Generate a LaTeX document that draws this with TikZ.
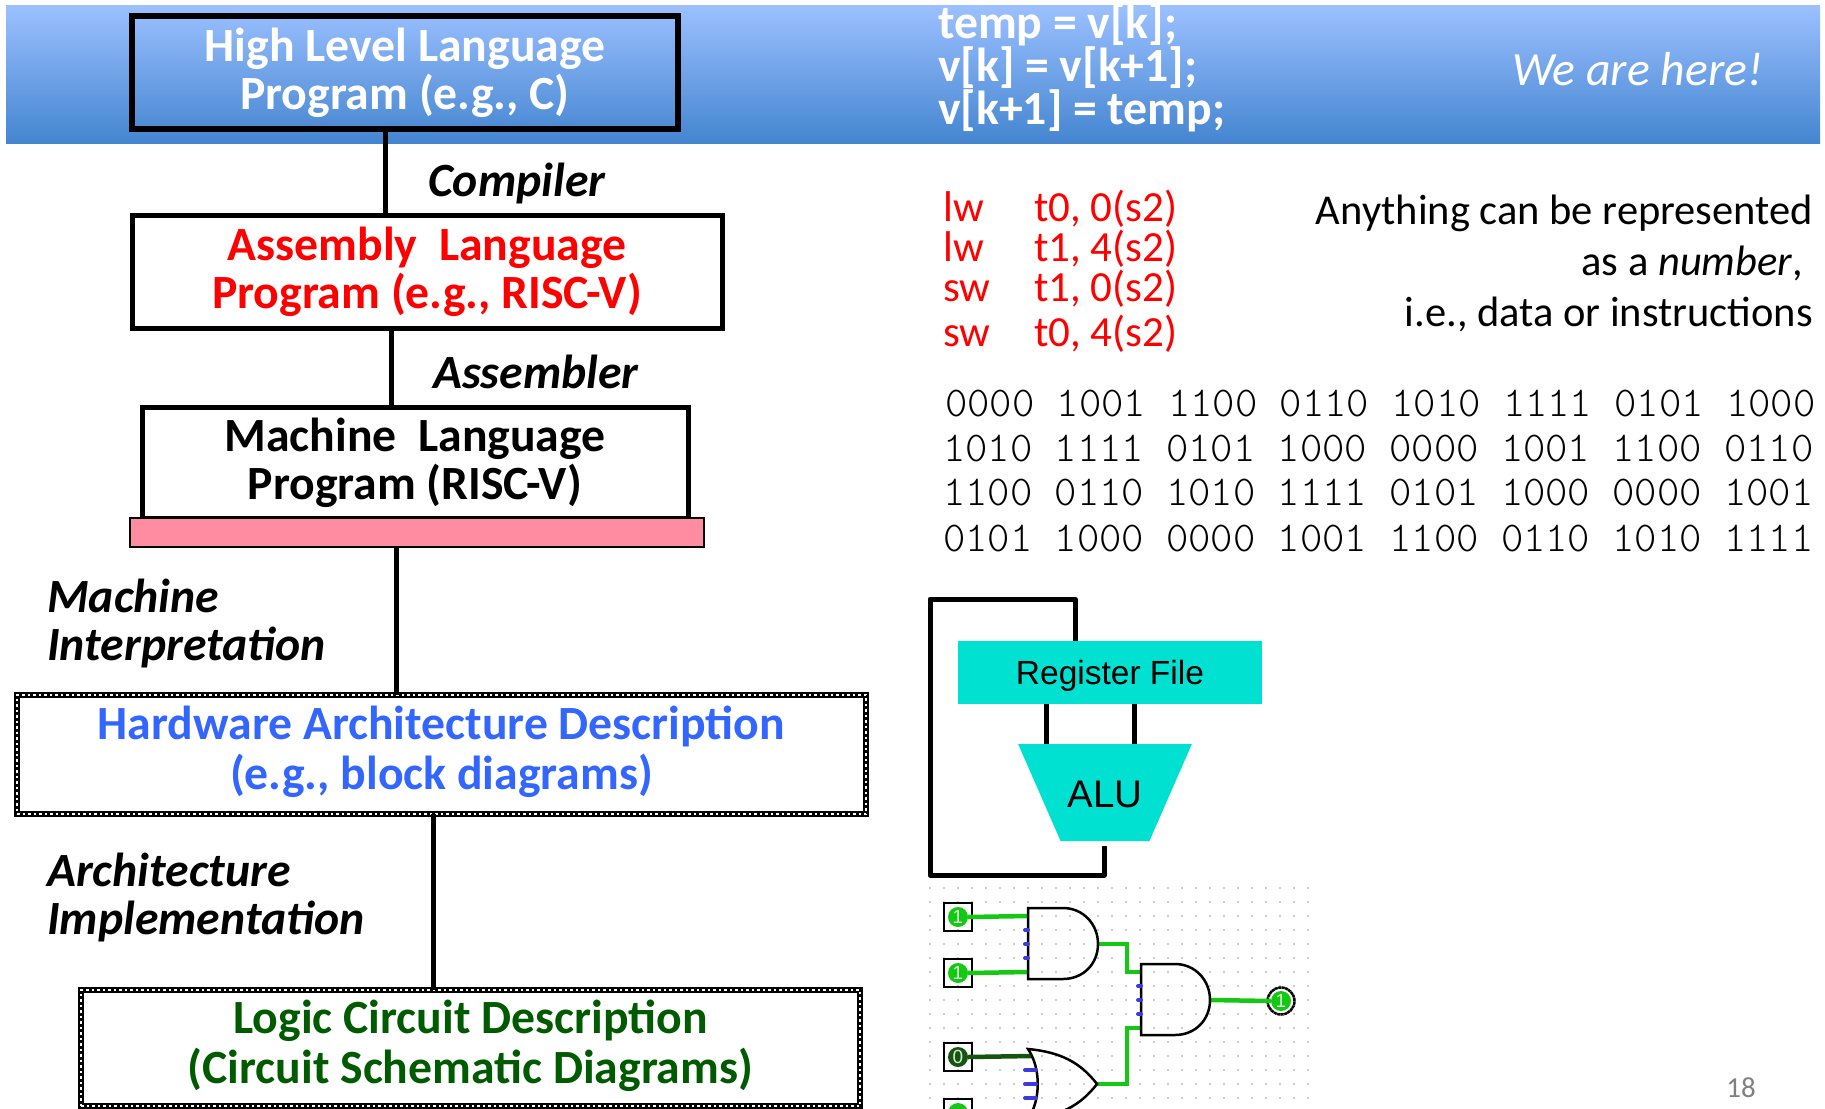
\documentclass[tikz,border=0pt]{standalone}
\usepackage{fontspec}
\setmainfont{Carlito}
\newfontfamily\arialfont{Liberation Sans}
\newfontfamily\courfont{Latin Modern Mono Light}
\usetikzlibrary{shapes.geometric}
\definecolor{bannertop}{RGB}{155,192,255}
\definecolor{bannermid}{RGB}{137,180,243}
\definecolor{bannerlow}{RGB}{68,133,208}
\definecolor{asmred}{RGB}{255,0,0}
\definecolor{hwblue}{RGB}{51,102,255}
\definecolor{logicgreen}{RGB}{0,90,0}
\definecolor{rosebar}{RGB}{255,140,160}
\definecolor{tealblock}{RGB}{0,225,210}
\definecolor{wireon}{RGB}{20,200,20}
\definecolor{wireoff}{RGB}{20,85,15}
\definecolor{stubblue}{RGB}{60,60,220}
\tikzset{
  level box/.style={draw,line width=5pt,inner sep=0pt,outer sep=0pt,align=center,
    font=\fontsize{47.7}{48}\selectfont\bfseries},
  dotted box/.style={level box,line width=6pt,font=\fontsize{47.7}{50}\selectfont\bfseries,
    postaction={draw=white,line width=2.5pt,dash pattern=on 2.5pt off 3pt}},
  step label/.style={anchor=west,align=left,inner sep=0pt,
    font=\fontsize{47.7}{48}\selectfont\bfseries\itshape},
  link/.style={line width=5pt},
  asm text/.style={anchor=west,inner sep=0pt,text=asmred,text height=30pt,text depth=9pt,font=\fontsize{43}{43}\selectfont},
  note line/.style={anchor=east,inner sep=0pt,font=\fontsize{42.5}{43}\selectfont},
  bits line/.style={anchor=west,inner sep=0pt,text=black,font=\fontsize{42.5}{43}\courfont},
  block/.style={fill=tealblock,inner sep=0pt,outer sep=0pt},
  pin/.style={draw,line width=2.5pt,minimum size=28pt,inner sep=0pt},
  pin dot/.style={circle,fill=#1,minimum size=20pt,inner sep=0pt,text=white!85!#1,font=\fontsize{19}{19}\arialfont},
  on wire/.style={wireon,line width=4.5pt},
  off wire/.style={wireoff,line width=4.5pt},
  gate/.style={line width=2.5pt},
  stub/.style={stubblue,line width=4pt,line cap=round}
}
\begin{document}
\begin{tikzpicture}[x=1pt,y=-1pt,node distance=100pt]
\clip (0,0) rectangle (1825,1108);

% banner
\path[shade,top color=bannertop,middle color=bannermid,bottom color=bannerlow] (6,6) rectangle (1820,143);

% levels on the left
\node[level box,line width=6pt,text=white,minimum width=546pt,minimum height=113pt] (hll) at (405,72.5)
  {High Level Language\\Program (e.g., C)};
\node[level box,text=asmred,minimum width=590pt,minimum height=113pt,below of=hll,node distance=199pt,xshift=22pt] (asm)
  {Assembly\ \ Language\\Program (e.g., RISC-V)};
\node[level box,minimum width=546pt,minimum height=111pt,below of=asm,node distance=191pt,xshift=-12pt] (mach)
  {Machine\ \ Language\\Program (RISC-V)};
\node[draw,line width=2pt,fill=rosebar,inner sep=0pt,outer sep=0pt,minimum width=574pt,minimum height=29pt,below of=mach,node distance=70pt,xshift=2pt] (isa) {};
\node[dotted box,text=hwblue,text depth=14pt,minimum width=849pt,minimum height=119pt,below of=isa,node distance=222pt,xshift=24.5pt] (hw)
  {Hardware Architecture Description\\(e.g., block diagrams)};
\node[dotted box,text=logicgreen,text depth=12pt,minimum width=779pt,minimum height=116pt,below of=hw,node distance=293.5pt,xshift=29pt] (logic)
  {Logic Circuit Description\\(Circuit Schematic Diagrams)};

\node[step label] (compiler) at (428,183.5) {Compiler};
\node[step label] (assembler) at (433,372) {Assembler};
\node[step label] (interp) at (47,624) {Machine\\Interpretation};
\node[step label] (impl) at (47,898) {Architecture\\Implementation};

\path[link]
([xshift=-20pt]hll.south) edge ([xshift=-42pt]asm.north)
([xshift=-36pt]asm.south) edge ([xshift=-24pt]mach.north)
([xshift=-21pt]isa.south) edge ([xshift=-45.5pt]hw.north)
([xshift=-8.5pt]hw.south) edge ([xshift=-37.5pt]logic.north)
;

% code in the banner
\node[anchor=west,align=left,inner sep=0pt,text=white,font=\fontsize{47.7}{43}\selectfont\bfseries] (code) at (938,68)
  {temp = v[k];\\v[k] = v[k+1];\\v[k+1] = temp;};
\node[anchor=east,inner sep=0pt,text=white,font=\fontsize{47.7}{48}\selectfont\itshape] (here) at (1763,69) {We are here!};

% assembly
\foreach \i/\yy/\op/\args in {1/210.5/lw/{t0, 0(s2)},2/250.5/lw/{t1, 4(s2)},3/290.5/sw/{t1, 0(s2)},4/335.5/sw/{t0, 4(s2)}}{
  \node[asm text] (op\i) at (943,\yy) {\op};
  \node[asm text] (arg\i) at (1034,\yy) {\args};
}

\node[note line] (note1) at (1813,213) {Anything can be represented};
\node[note line] (note2) at (1803,263) {as a \textit{number},};
\node[note line] (note3) at (1813,314) {i.e., data or instructions};

% machine words
\node[bits line] (word1) at (945,404) {0000 1001 1100 0110 1010 1111 0101 1000};
\node[bits line] (word2) at (943,449) {1010 1111 0101 1000 0000 1001 1100 0110};
\node[bits line] (word3) at (943,493) {1100 0110 1010 1111 0101 1000 0000 1001};
\node[bits line] (word4) at (943,539) {0101 1000 0000 1001 1100 0110 1010 1111};

% block diagram
\coordinate (loopa) at (930,599);
\coordinate (loopb) at (930,875);
\node[block,minimum width=304pt,minimum height=63pt,text height=31pt,text depth=7pt,font=\fontsize{33.5}{33.5}\arialfont] (rf) at (1110,672.5) {Register File};
\node[block,trapezium,trapezium stretches=true,trapezium angle=40,shape border rotate=180,
  minimum width=174pt,minimum height=97pt,text height=30pt,text depth=0pt,font=\fontsize{38.5}{38.5}\arialfont] (alu) at (1105,792.5) {ALU};
\path[link]
([xshift=-64pt]rf.south) edge ([xshift=-59pt]alu.north)
([xshift=24pt]rf.south) edge ([xshift=29pt]alu.north)
;
\draw[link,line join=round] ([xshift=-35pt]rf.north) |- (loopa) -- (loopb) -| ([xshift=-1pt,yshift=-5pt]alu.south);

% logic circuit
\foreach \gx in {0,...,27}
  \foreach \gy in {0,...,15}
    \fill[black!40] (930+14*\gx,888+14*\gy) circle[radius=0.9pt];

\node[pin] (pina) at (958,917) {};
\node[pin] (pinb) at (958,973) {};
\node[pin] (pinc) at (958,1057) {};
\node[pin] (pind) at (958,1113) {};
\node[pin dot=wireon] (dota) at (pina) {1};
\node[pin dot=wireon] (dotb) at (pinb) {1};
\node[pin dot=wireoff] (dotc) at (pinc) {0};
\node[pin dot=wireon] (dotd) at (pind) {};
\node[circle,draw,dashed,dash pattern=on 3pt off 0.5pt,line width=2.5pt,minimum size=27pt,inner sep=0pt] (pout) at (1281,1001) {};
\node[pin dot=wireon] (dotout) at (pout) {1};

\coordinate (anda) at (1028,916);
\coordinate (andb) at (1028,972);
\coordinate (andout) at (1098,944);
\coordinate (sumtop) at (1141,972);
\coordinate (sumlow) at (1141,1028);
\coordinate (sumout) at (1210,1000);
\coordinate (orc) at (1032,1056);
\coordinate (orout) at (1097,1084);

\draw[on wire] (dota.east) -- (anda);
\draw[on wire] (dotb.east) -- (andb);
\draw[off wire] (dotc.east) -- (orc);
\draw[on wire] (andout) -| (1127,972) -- (sumtop);
\draw[on wire] (orout) -| (1127,1028) -- (sumlow);
\draw[on wire] (sumout) -- (dotout.west);

\draw[gate] (1028,908) -- (1063,908) .. controls (1083,908) and (1098,924) .. (1098,944)
  .. controls (1098,964) and (1083,979) .. (1063,979) -- (1028,979) -- cycle;
\draw[gate] (1141,964) -- (1175,964) .. controls (1195,964) and (1210,980) .. (1210,1000)
  .. controls (1210,1020) and (1195,1035) .. (1175,1035) -- (1141,1035) -- cycle;
\draw[gate] (1028,1049) .. controls (1060,1052) and (1080,1062) .. (1097,1084)
  .. controls (1080,1106) and (1060,1116) .. (1028,1119)
  .. controls (1041,1100) and (1041,1068) .. (1028,1049) -- cycle;

\foreach \yy in {930,944,958} \draw[stub] (1025,\yy) -- (1028,\yy);
\foreach \yy in {986,1000,1014} \draw[stub] (1138,\yy) -- (1141,\yy);
\foreach \yy in {1070,1084,1098} \draw[stub] (1025,\yy) -- (1036,\yy);

\node[inner sep=0pt,text=black!50,font=\fontsize{29}{29}\selectfont] (page) at (1741,1088) {18};
\end{tikzpicture}
\end{document}
